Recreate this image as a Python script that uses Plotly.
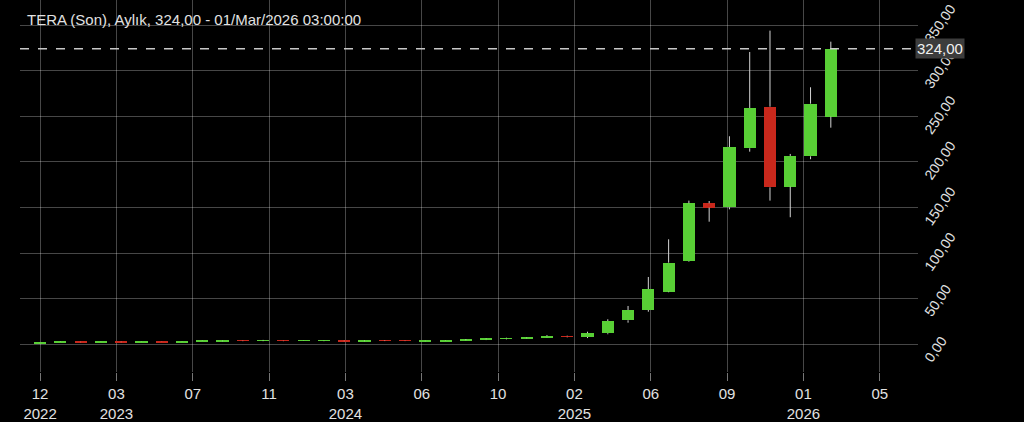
import plotly.graph_objects as go

# Monthly candles, Dec 2022 .. Mar 2026
months = ["2022-12", "2023-01", "2023-02", "2023-03", "2023-04", "2023-05", "2023-06",
          "2023-07", "2023-08", "2023-09", "2023-10", "2023-11", "2023-12", "2024-01",
          "2024-02", "2024-03", "2024-04", "2024-05", "2024-06", "2024-07", "2024-08",
          "2024-09", "2024-10", "2024-11", "2024-12", "2025-01", "2025-02", "2025-03",
          "2025-04", "2025-05", "2025-06", "2025-07", "2025-08", "2025-09", "2025-10",
          "2025-11", "2025-12", "2026-01", "2026-02", "2026-03"]
open_ = [1.0, 1.8, 2.6, 2.0, 2.6, 2.0, 2.6, 2.0, 2.5, 3.4, 4.2, 3.6, 4.2, 3.6, 3.6, 4.1,
         3.5, 4.2, 4.4, 3.3, 3.3, 4.0, 4.9, 5.8, 6.6, 7.6, 8.9, 8.0, 12.1, 26.3, 37.6,
         57.7, 91.3, 154.6, 150.2, 214.9, 260.5, 172.8, 206.1, 249.6]
high = [2.0, 2.9, 2.8, 2.8, 2.9, 2.8, 2.8, 2.7, 3.9, 4.5, 4.5, 4.8, 4.4, 4.3, 4.3, 4.4,
        4.5, 4.6, 4.6, 4.2, 4.3, 5.6, 6.2, 7.2, 7.8, 10.0, 9.4, 13.8, 27.4, 42.0, 73.8,
        115.1, 157.5, 157.1, 228.1, 320.5, 343.9, 208.7, 281.8, 331.8]
low = [0.8, 1.7, 1.8, 1.9, 1.8, 1.9, 1.9, 1.9, 2.4, 3.2, 3.4, 3.4, 3.4, 3.5, 3.4, 3.3,
       3.3, 3.5, 3.5, 3.1, 3.2, 3.8, 4.6, 5.4, 6.3, 7.4, 7.6, 6.8, 11.0, 23.7, 35.7,
       57.0, 90.6, 134.4, 148.0, 211.2, 157.5, 139.3, 202.9, 237.5]
close = [1.8, 2.6, 2.0, 2.6, 2.0, 2.6, 2.0, 2.5, 3.6, 4.2, 3.6, 4.2, 3.6, 4.1, 4.1, 3.5,
         4.1, 3.7, 3.7, 4.0, 4.0, 4.9, 5.8, 6.6, 7.4, 8.9, 8.0, 12.2, 25.5, 37.6, 60.6,
         89.5, 154.6, 149.8, 216.3, 259.1, 172.1, 206.5, 263.8, 324.0]
last_price = 324.0

x_tick_labels = ["12<br>2022", "03<br>2023", "07", "11", "03<br>2024", "06", "10",
                 "02<br>2025", "06", "09", "01<br>2026", "05"]
y_ticks = [0, 50, 100, 150, 200, 250, 300, 350]

GREEN = "#58cf35"
RED = "#c9281c"
WICK = "#d4d4d4"
GRID = "rgba(255,255,255,0.28)"
TEXT = "#e2e2e2"

idx = list(range(len(months)))

# wicks: two segments per candle (above and below body)
wx, wy = [], []
for i, o, h, l, c in zip(idx, open_, high, low, close):
    top, bot = max(o, c), min(o, c)
    wx += [i, i, None, i, i, None]
    wy += [h, top, None, bot, l, None]

colors = [GREEN if c >= o else RED for o, c in zip(open_, close)]
bases = [min(o, c) for o, c in zip(open_, close)]
heights = [max(abs(c - o), 0.6) for o, c in zip(open_, close)]

fig = go.Figure()
fig.add_trace(go.Scatter(x=wx, y=wy, mode="lines", line=dict(color=WICK, width=1),
                         hoverinfo="skip", showlegend=False))
fig.add_trace(go.Bar(x=idx, y=heights, base=bases, width=0.6,
                     marker=dict(color=colors, line=dict(width=0)),
                     customdata=list(zip(months, open_, high, low, close)),
                     hovertemplate="%{customdata[0]}<br>O %{customdata[1]}<br>H %{customdata[2]}"
                                   "<br>L %{customdata[3]}<br>C %{customdata[4]}<extra></extra>",
                     showlegend=False))

tick_step = 3.765
tickvals = [i * tick_step for i in range(len(x_tick_labels))]

fig.add_shape(type="line", xref="paper", x0=0, x1=1, yref="y", y0=last_price, y1=last_price,
              line=dict(color="#c8c8c8", width=1.5, dash="dash"), layer="above")
fig.add_annotation(xref="paper", x=1.0, yref="y", y=last_price, xanchor="left", yanchor="middle",
                   text="324,00", showarrow=False, bgcolor="#3c3c3c", xshift=-3,
                   font=dict(family="Liberation Sans, Arial, sans-serif", size=15, color="#f0f0f0"),
                   borderpad=1)

fig.update_layout(
    width=1024, height=422,
    margin=dict(l=20, r=106, t=0, b=50),
    paper_bgcolor="black", plot_bgcolor="black",
    separators=",.",
    font=dict(family="Liberation Sans, Arial, sans-serif", size=15, color=TEXT),
    title=dict(text="TERA (Son), Aylık, 324,00 - 01/Mar/2026 03:00:00",
               x=27 / 1024, xanchor="left", y=1 - 20 / 422, yanchor="middle",
               font=dict(size=15, color=TEXT)),
    bargap=0,
    showlegend=False,
    xaxis=dict(range=[-0.99, 43.3], tickmode="array", tickvals=tickvals, ticktext=x_tick_labels,
               showgrid=True, gridcolor=GRID, gridwidth=1, zeroline=False, showline=False,
               ticks="outside", ticklen=8, tickcolor="#777", tickfont=dict(size=15, color=TEXT)),
    yaxis=dict(side="right", range=[-30.4, 377.5], tickmode="array", tickvals=y_ticks,
               tickformat=".2f", tickangle=-55, ticklabelshift=17, ticklabelstandoff=7,
               ticklabeloverflow="allow",
               showgrid=True, gridcolor=GRID, gridwidth=1,
               zeroline=False, showline=False, ticks="", tickfont=dict(size=14, color=TEXT)),
)

fig.write_html(
    "out.html",
    config={"displayModeBar": False},
    post_script="document.body.style.margin='0';document.body.style.background='black';"
                "document.body.style.overflow='hidden';",
)
